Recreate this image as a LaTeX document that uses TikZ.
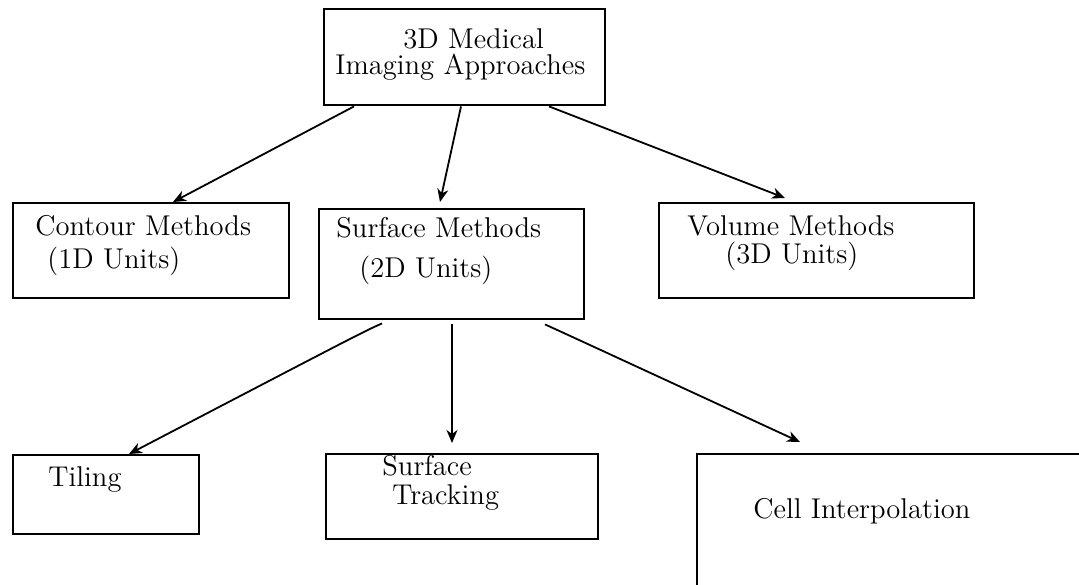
\documentclass[tikz,border=0pt]{standalone}
\usetikzlibrary{arrows.meta,calc}
\begin{document}
\begin{tikzpicture}[x=0.5pt,y=-0.5pt,
  box/.style={draw,line width=1.2pt,rectangle,inner sep=0pt,anchor=north west},
  lbl/.style={anchor=base west,inner sep=0pt,font=\fontsize{14.3}{17}\selectfont},
  arr/.style={line width=0.9pt,-{Stealth[length=6.5pt,width=5.5pt,inset=2pt]}}]
\useasboundingbox (0,0) rectangle (1079,584);
% boxes
\node[box,minimum width=140.5pt,minimum height=48pt] (top) at (323,8) {};
\node[box,minimum width=138pt,minimum height=47.5pt] (contour) at (12,202) {};
\node[box,minimum width=132.5pt,minimum height=55pt] (surface) at (318,208) {};
\node[box,minimum width=157.5pt,minimum height=47.5pt] (volume) at (658,202) {};
\node[box,minimum width=93pt,minimum height=39.5pt] (tiling) at (12,454) {};
\node[box,minimum width=136pt,minimum height=42.5pt] (tracking) at (325,453) {};
\node[box,minimum width=202pt,minimum height=83.5pt] (cell) at (696,453) {};
% texts
\node[lbl] (t1) at (403,48) {3D Medical};
\node[lbl] (t2) at (335,74) {Imaging Approaches};
\node[lbl] (t3) at (35,235) {Contour Methods};
\node[lbl] (t4) at (47,268) {(1D Units)};
\node[lbl] (t5) at (336,237) {Surface Methods};
\node[lbl] (t6) at (359,277) {(2D Units)};
\node[lbl] (t7) at (687,235) {Volume Methods};
\node[lbl] (t8) at (725,263) {(3D Units)};
\node[lbl] (t9) at (48,486) {Tiling};
\node[lbl] (t10) at (382,475) {Surface};
\node[lbl] (t11) at (392,504) {Tracking};
\node[lbl] (t12) at (753,518) {Cell Interpolation};
% connectors
\draw[arr] ($(top.south west)+(31,0)$) -- ($(contour.north west)+(161,0)$);
\draw[arr] ($(top.south west)+(138,0)$) -- ($(surface.north west)+(122,-6)$);
\draw[arr] ($(top.south west)+(226,0)$) -- ($(volume.north west)+(127,-4)$);
\draw[arr] ($(surface.south west)+(64,3)$) .. controls ($(surface.south west)+(44,12)$) .. ($(tiling.north west)+(117,0)$);
\draw[arr] ($(surface.south west)+(134,4)$) -- ($(tracking.north west)+(127,-10)$);
\draw[arr] ($(surface.south west)+(227,4)$) .. controls ($(surface.south west)+(262,20)$) .. ($(cell.north west)+(104,-11)$);
\end{tikzpicture}
\end{document}
